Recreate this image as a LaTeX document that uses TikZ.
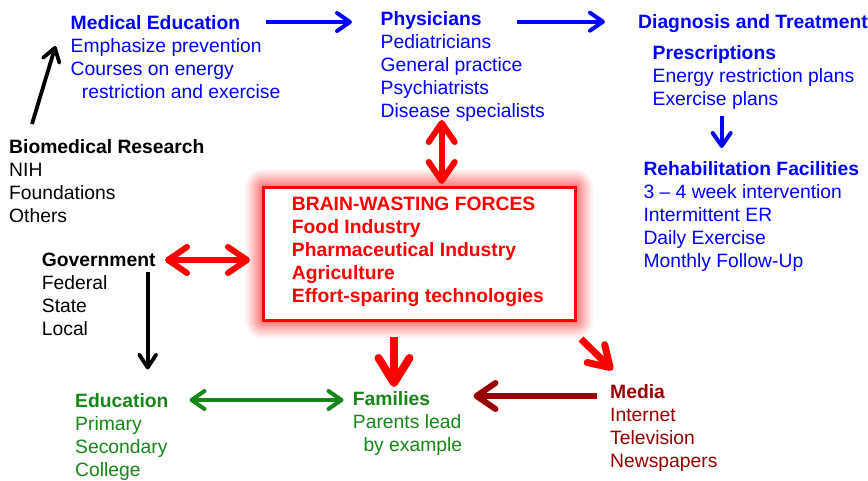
\documentclass[tikz,border=0pt]{standalone}
\usepackage{fontspec}
\setmainfont{Liberation Sans}
\usetikzlibrary{arrows.meta}
\definecolor{cblue}{RGB}{0,0,255}
\definecolor{cred}{RGB}{255,0,0}
\definecolor{cgreen}{RGB}{20,135,20}
\definecolor{cdark}{RGB}{153,0,0}
\definecolor{cblack}{RGB}{0,0,0}
\begin{document}
\begin{tikzpicture}[x=1pt,y=-1pt,
  txt/.style={anchor=base west, inner sep=0pt, font=\fontsize{19.3}{23}\selectfont},
  hd/.style={txt, font=\fontsize{19.3}{23}\selectfont\bfseries},
  bluetxt/.style={txt, text=cblue},
  bluehd/.style={hd, text=cblue},
  redhd/.style={hd, text=cred},
  blktxt/.style={txt, text=cblack},
  blkhd/.style={hd, text=cblack},
  grntxt/.style={txt, text=cgreen},
  grnhd/.style={hd, text=cgreen},
  drktxt/.style={txt, text=cdark},
  drkhd/.style={hd, text=cdark},
  bluearrow/.style={draw=cblue, line width=4pt, -{Straight Barb[length=13pt,width=18pt,round]}},
  blackarrow/.style={draw=cblack, line width=3.8pt, -{Straight Barb[length=13pt,width=17pt,round]}},
  greenarrow/.style={draw=cgreen, line width=4pt, {Straight Barb[length=13pt,width=18pt,round]}-{Straight Barb[length=13pt,width=18pt,round]}},
  reddouble/.style={draw=cred, line width=6pt, {Straight Barb[length=19pt,width=26pt,round]}-{Straight Barb[length=19pt,width=26pt,round]}},
  redsingle/.style={draw=cred, line width=7pt, -{Straight Barb[length=20pt,width=25pt,round]}},
  redbig/.style={draw=cred, line width=8pt, -{Straight Barb[length=25pt,width=31pt,round]}},
  darkarrow/.style={draw=cdark, line width=6pt, -{Straight Barb[length=19pt,width=26pt,round]}},
  forcebox/.style={draw=cred, line width=3pt, fill=white, minimum width=311.7pt, minimum height=132.3pt, inner sep=0pt}
]
\useasboundingbox (0,0) rectangle (868,481);

% ---- glow and central box ----
\coordinate (bnw) at (263.3,187.7);
\coordinate (bse) at (575,320);
\foreach \d/\c in {18/5,16/10,14/16,12/22,10/28,8/34,6/40,4/46,2/52}{
  \fill[cred!\c, rounded corners=\d pt] ([shift={(-\d,-\d)}]bnw) rectangle ([shift={(\d,\d)}]bse);
}
\node[forcebox] (box) at (419.15,253.85) {};
\node[redhd] (f0) at (291.7,210.7) {BRAIN-WASTING FORCES};
\node[redhd] (f1) at (291.7,233.7) {Food Industry};
\node[redhd] (f2) at (291.7,256.7) {Pharmaceutical Industry};
\node[redhd] (f3) at (291.7,279.7) {Agriculture};
\node[redhd] (f4) at (291.7,302.7) {Effort-sparing technologies};

% ---- Medical Education ----
\node[bluehd] (med0) at (70.5,29.3) {Medical Education};
\node[bluetxt] (med1) at (70.5,52.3) {Emphasize prevention};
\node[bluetxt] (med2) at (70.5,75.3) {Courses on energy};
\node[bluetxt] (med3) at (81.7,98.3) {restriction and exercise};

% ---- Physicians ----
\node[bluehd] (phy0) at (380.5,26) {Physicians};
\node[bluetxt] (phy1) at (380.5,49) {Pediatricians};
\node[bluetxt] (phy2) at (380.5,72) {General practice};
\node[bluetxt] (phy3) at (380.5,95) {Psychiatrists};
\node[bluetxt] (phy4) at (380.5,118) {Disease specialists};

% ---- Diagnosis ----
\node[bluehd] (dia0) at (638,28.5) {Diagnosis and Treatment};
\node[bluehd] (pre0) at (652.5,60) {Prescriptions};
\node[bluetxt] (pre1) at (652.5,83) {Energy restriction plans};
\node[bluetxt] (pre2) at (652.5,106) {Exercise plans};
\node[bluehd] (reh0) at (643.3,175.3) {Rehabilitation Facilities};
\node[bluetxt] (reh1) at (643.3,198.3) {3 -- 4 week intervention};
\node[bluetxt] (reh2) at (643.3,221.3) {Intermittent ER};
\node[bluetxt] (reh3) at (643.3,244.3) {Daily Exercise};
\node[bluetxt] (reh4) at (643.3,267.3) {Monthly Follow-Up};

% ---- Biomedical Research ----
\node[blkhd] (bio0) at (9,154) {Biomedical Research};
\node[blktxt] (bio1) at (9,177) {NIH};
\node[blktxt] (bio2) at (9,200) {Foundations};
\node[blktxt] (bio3) at (9,223) {Others};

% ---- Government ----
\node[blkhd] (gov0) at (41.7,266.3) {Government};
\node[blktxt] (gov1) at (41.7,289.3) {Federal};
\node[blktxt] (gov2) at (41.7,312.3) {State};
\node[blktxt] (gov3) at (41.7,335.3) {Local};

% ---- Education ----
\node[grnhd] (edu0) at (75,407) {Education};
\node[grntxt] (edu1) at (75,430) {Primary};
\node[grntxt] (edu2) at (75,453) {Secondary};
\node[grntxt] (edu3) at (75,476) {College};

% ---- Families ----
\node[grnhd] (fam0) at (352.7,405) {Families};
\node[grntxt] (fam1) at (352.7,428) {Parents lead};
\node[grntxt] (fam2) at (363.3,451) {by example};

% ---- Media ----
\node[drkhd] (med0b) at (610,398.5) {Media};
\node[drktxt] (mda1) at (610,421.5) {Internet};
\node[drktxt] (mda2) at (610,444.5) {Television};
\node[drktxt] (mda3) at (610,467.5) {Newspapers};

% ---- connector end points ----
\coordinate (a1s) at (266,22);   \coordinate (a1e) at (352,22);
\coordinate (a2s) at (517,21.7); \coordinate (a2e) at (605,21.7);
\coordinate (a3s) at (721.7,116); \coordinate (a3e) at (721.7,148);
\coordinate (a4s) at (32,124);   \coordinate (a4e) at (55.5,46);
\coordinate (a5s) at (441.7,120); \coordinate (a5e) at (441.7,184);
\coordinate (a6s) at (165,260);  \coordinate (a6e) at (250,260);
\coordinate (a7s) at (147.7,272); \coordinate (a7e) at (147.7,369.5);
\coordinate (a8s) at (189.5,400); \coordinate (a8e) at (343.5,400);
\coordinate (a9s) at (394,337);  \coordinate (a9e) at (394,387);
\coordinate (a10s) at (581,339); \coordinate (a10e) at (612.7,370);
\coordinate (a11s) at (597,396); \coordinate (a11e) at (473.5,396);

% ---- connectors ----
\draw[bluearrow] (a1s) -- (a1e);
\draw[bluearrow] (a2s) -- (a2e);
\draw[bluearrow] (a3s) -- (a3e);
\draw[blackarrow] (a4s) -- (a4e);
\draw[reddouble] (a5s) -- (a5e);
\draw[reddouble] (a6s) -- (a6e);
\draw[blackarrow] (a7s) -- (a7e);
\draw[greenarrow] (a8s) -- (a8e);
\draw[redbig] (a9s) -- (a9e);
\draw[redsingle] (a10s) -- (a10e);
\draw[darkarrow] (a11s) -- (a11e);
\end{tikzpicture}
\end{document}
